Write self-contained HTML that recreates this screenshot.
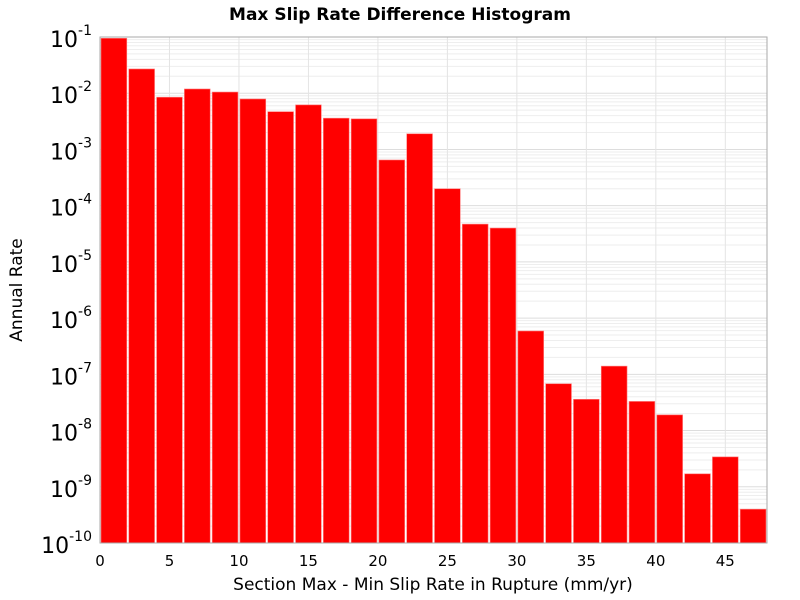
<!DOCTYPE html>
<html><head><meta charset="utf-8"><style>body{margin:0;background:#fff}svg{display:block;font-family:"DejaVu Sans","Liberation Sans",sans-serif}</style></head>
<body>
<svg id="c" width="800" height="600">
<text x="400" y="20" text-anchor="middle" font-weight="bold" font-size="17">Max Slip Rate Difference Histogram</text>
<text x="433" y="590" text-anchor="middle" font-size="17">Section Max - Min Slip Rate in Rupture (mm/yr)</text>
<text transform="translate(22,290) rotate(-90)" text-anchor="middle" font-size="17">Annual Rate</text>
<g id="grid"></g><g id="bars"></g><g id="ticks"></g>
<rect x="100" y="37" width="667" height="506" fill="none" stroke="#aaa"/>
</svg>
<script>
const binCenters=[1,3,5,7,9,11,13,15,17,19,21,23,25,27,29,31,33,35,37,39,41,43,45,47];
const rates=[0.095,0.027,0.0085,0.0119,0.0105,0.0079,0.0047,0.0062,0.0036,0.0035,6.5e-4,0.0019,2.0e-4,4.7e-5,4.0e-5,5.9e-7,6.8e-8,3.6e-8,1.4e-7,3.3e-8,1.9e-8,1.7e-9,3.4e-9,4.0e-10];
const xTicks=[0,5,10,15,20,25,30,35,40,45];
const yExps=[-1,-2,-3,-4,-5,-6,-7,-8,-9,-10];
const binWidth=2;
const L=100,R=767,T=37,B=543,xMin=0,xMax=48,yMaxE=-1,yMinE=-10;
const X=v=>L+(v-xMin)/(xMax-xMin)*(R-L);
const Y=v=>T+(yMaxE-Math.log10(v))/(yMaxE-yMinE)*(B-T);
const NS="http://www.w3.org/2000/svg";
function mk(t,a,p){const e=document.createElementNS(NS,t);for(const k in a)e.setAttribute(k,a[k]);p.appendChild(e);return e;}
const g=document.getElementById('grid'),bg=document.getElementById('bars'),tg=document.getElementById('ticks');
for(let e=yMinE;e<yMaxE;e++){for(let m=1;m<10;m++){const y=Y(m*Math.pow(10,e));
const l=mk('line',{x1:L,x2:R,y1:y,y2:y,stroke:m==1?'#ddd':'#eee','stroke-width':1},g);

}}
xTicks.forEach(v=>{const x=X(v);
const l=mk('line',{x1:x,x2:x,y1:T,y2:B,stroke:'#e4e4e4'},g);


const t=mk('text',{x:x,y:566,'text-anchor':'middle','font-size':15},tg);t.textContent=v;

});
yExps.forEach(e=>{const y=Y(Math.pow(10,e));
const t=mk('text',{x:92,y:y+10,'text-anchor':'end','font-size':22},tg);
t.innerHTML='10<tspan dy="-12" font-size="14">'+e+'</tspan>';

});
binCenters.forEach((c,i)=>{const x0=X(c-binWidth/2)+1,x1=X(c+binWidth/2)-1,y=Y(rates[i]);
const r=mk('rect',{x:x0,y:y,width:x1-x0,height:B-y,fill:'#ff0000',stroke:'#ff8080','stroke-width':0.6},bg);

});
</script>
</body></html>
